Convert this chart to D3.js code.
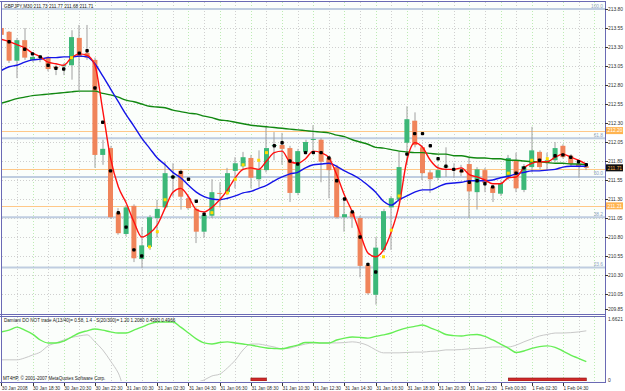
<!DOCTYPE html>
<html><head><meta charset="utf-8">
<script src="https://cdn.jsdelivr.net/npm/d3@7"></script>
<style>html,body{margin:0;padding:0;background:#fff;overflow:hidden}text{font-family:"Liberation Sans",Arial,sans-serif}</style>
</head><body><svg id="c" width="625" height="391"></svg>
<script>
// ---------- DATA ----------
const symbolTitle = "GBPJPY,M30  211.73 211.77 211.68 211.71";
const indTitle = "Damiani DO NOT trade A(13/40)= 0.58, 1.4 - S(20/300)= 1.20  1.2080 0.4580 0.4966";
const copyright = "MT4HP, \u00a9 2001-2007 MetaQuotes Software Corp.";
const timeLabels = ["30 Jan 2008","30 Jan 18:30","30 Jan 20:30","30 Jan 22:30","31 Jan 00:30","31 Jan 02:30","31 Jan 04:30","31 Jan 06:30","31 Jan 08:30","31 Jan 10:30","31 Jan 12:30","31 Jan 14:30","31 Jan 16:30","31 Jan 18:30","31 Jan 20:30","31 Jan 22:30","1 Feb 00:30","1 Feb 02:30","1 Feb 04:30"];
const timeLabelBars = [0,4,8,12,16,20,24,28,32,36,40,44,48,52,56,60,64,68,72];
const priceTicks = ["213.80","213.55","213.30","213.05","212.80","212.55","212.30","212.05","211.80","211.55","211.30","211.05","210.80","210.55","210.30","210.05","209.85"];
const indTicks = ["1.6621","0"];

const open = [213.55,213.50,213.12,213.39,213.13,213.17,213.17,213.04,213.05,213.06, 213.42,213.22,213.13,211.88,211.97,211.12,210.84,211.21,210.51,210.67, 211.05,211.19,211.58,211.67,211.31,211.17,210.87,211.08,211.38,211.39, 211.67,211.73,211.84,211.56,211.68,212.00,212.01,211.97,211.38,211.92, 212.08,212.08,211.84,211.72,211.06,211.13,211.05,210.43,210.04,210.63, 211.19,211.29,212.04,212.33,211.98,211.65,211.58,211.72,211.69,211.67, 211.76,211.39,211.68,211.46,211.37,211.58,211.81,211.42,211.72,211.92, 211.79,211.81,212.00,211.87,211.76,211.73];
const high = [213.58,213.51,213.42,213.55,213.19,213.19,213.18,213.06,213.09,213.52, 213.59,213.59,213.16,212.08,212.00,211.18,211.22,211.23,210.93,211.09, 211.29,211.79,211.77,211.69,211.34,211.19,211.12,211.56,211.52,211.71, 211.85,211.92,211.88,211.94,212.25,212.18,212.17,212.00,211.96,212.08, 212.27,212.10,211.87,211.75,211.29,211.16,211.08,210.46,210.80,211.17, 211.34,211.92,212.52,212.44,212.01,211.68,211.75,211.98,211.77,211.75, 211.84,211.72,211.71,211.48,211.54,211.88,211.91,211.76,212.25,211.94, 211.91,212.05,212.02,211.89,211.79,211.77];
const low = [213.43,213.09,212.89,213.13,213.10,213.10,212.98,212.93,212.93,212.87, 212.73,213.13,211.71,211.75,211.04,210.83,210.81,210.47,210.39,210.63, 210.79,211.18,211.33,211.16,211.16,210.72,210.79,211.05,211.19,211.35, 211.44,211.68,211.44,211.46,211.65,211.81,211.75,211.26,211.35,211.89, 211.94,211.52,211.31,211.04,210.87,210.92,210.27,210.04,209.91,210.60, 210.63,211.26,211.75,211.98,211.55,211.38,211.55,211.59,211.58,211.60, 211.05,211.16,211.39,211.26,211.34,211.55,211.39,211.39,211.65,211.69, 211.68,211.79,211.83,211.73,211.58,211.68];
const close = [213.46,213.12,213.39,213.16,213.17,213.16,213.01,213.02,213.06,213.43, 213.17,213.16,211.88,211.96,211.06,210.85,211.19,210.52,210.69,211.06, 211.17,211.64,211.60,211.33,211.18,210.87,211.09,211.39,211.37,211.64, 211.77,211.85,211.58,211.69,211.97,212.01,211.96,211.38,211.93,212.05, 212.09,211.79,211.68,211.06,211.10,211.06,210.42,210.06,210.66,211.14, 211.31,211.72,212.35,212.01,211.64,211.56,211.68,211.73,211.68,211.65, 211.40,211.69,211.51,211.38,211.51,211.84,211.44,211.73,211.94,211.72, 211.81,211.97,211.85,211.76,211.72,211.71];

const maFast = [213.40,213.37,213.33,213.29,213.22,213.17,213.10,213.08,213.06,213.16, 213.21,213.19,213.06,212.47,211.84,211.46,211.25,211.00,210.80,210.85, 210.96,211.18,211.39,211.44,211.33,211.16,211.13,211.19,211.29,211.42, 211.58,211.69,211.71,211.69,211.80,211.91,211.93,211.79,211.77,211.83, 211.93,211.91,211.84,211.62,211.35,211.13,210.85,210.59,210.54,210.63, 210.87,211.22,211.81,212.04,211.98,211.81,211.71,211.69,211.69,211.71, 211.62,211.59,211.55,211.50,211.50,211.58,211.59,211.71,211.77,211.79, 211.79,211.85,211.89,211.85,211.81,211.76];
const maMid = [212.99,213.04,213.06,213.10,213.13,213.14,213.16,213.16,213.17,213.17, 213.18,213.17,213.08,212.92,212.75,212.58,212.41,212.26,212.10,211.97, 211.84,211.75,211.65,211.58,211.48,211.39,211.33,211.30,211.29,211.31, 211.34,211.38,211.40,211.44,211.48,211.54,211.59,211.63,211.65,211.71, 211.75,211.76,211.77,211.73,211.67,211.62,211.56,211.48,211.39,211.27, 211.22,211.29,211.34,211.39,211.42,211.42,211.46,211.50,211.51,211.52, 211.54,211.54,211.54,211.55,211.58,211.60,211.63,211.65,211.67,211.67, 211.68,211.69,211.72,211.73,211.73,211.73];
const maSlow = [212.56,212.59,212.62,212.64,212.66,212.67,212.68,212.69,212.70,212.71, 212.72,212.72,212.72,212.69,212.67,212.64,212.60,212.58,212.55,212.52, 212.51,212.50,212.47,212.45,212.43,212.42,212.39,212.37,212.34,212.33, 212.31,212.29,212.27,212.26,212.25,212.24,212.23,212.22,212.21,212.20, 212.19,212.18,212.17,212.14,212.12,212.08,212.05,212.02,211.98,211.97, 211.95,211.93,211.92,211.91,211.91,211.90,211.89,211.89,211.87,211.87, 211.85,211.84,211.84,211.83,211.83,211.81,211.81,211.80,211.79,211.79, 211.78,211.77,211.77,211.76,211.76,211.75];

const blackDotBars = [1,3,4,5,6,7,8,10,11,12,13,14,15,16,17,18,22,23,24,25,26,35,36,37,38,39,40,41,42,43,44,45,46,47,48,52,53,54,55,56,57,58,59,60,61,62,63,66,67,69,71,72,73,74,75];
const blackDotPrices = [213.37,213.27,213.21,213.17,213.06,213.02,213.01,213.22,213.25,212.76,212.31,211.67,211.12,210.93,210.63,210.55,211.59,211.65,211.56,211.27,211.10,212.00,212.04,211.80,211.76,211.91,211.91,211.91,211.84,211.54,211.30,211.13,210.80,210.44,210.34,211.89,212.16,212.16,212.00,211.83,211.73,211.69,211.67,211.52,211.54,211.50,211.46,211.64,211.71,211.81,211.87,211.88,211.85,211.79,211.75];
const yellowDotBars = [9,19,20,21,27,29,30,31,33,34,49,50,51,65,68,70];
const yellowDotPrices = [213.16,210.67,210.87,211.29,211.12,211.38,211.56,211.75,211.81,211.91,210.54,210.89,211.34,211.64,211.81,211.83];

const fibLabels = ["100.0","61.8","50.0","38.2","23.6"];
const fibPrices = [213.80,212.10,211.59,211.06,210.40];
const pivotPrices = [212.20,211.70,211.21];
const pivotLabels = ["212.20","","211.21"];
const bidPrice = 211.71, bidLabel = "211.71";

const indGreen = [1.31,1.36,1.44,1.36,1.25,1.09,1.01,1.01,1.06,1.17, 1.28,1.34,1.39,1.36,1.31,1.28,1.28,1.36,1.44,1.53, 1.58,1.58,1.58,1.44,1.28,1.12,1.01,0.98,1.02,1.04, 1.01,0.98,0.95,0.91,0.87,0.86,0.85,0.90,0.95,1.02, 1.02,1.01,1.01,1.09,1.14,1.17,1.16,1.14,1.19,1.23, 1.28,1.36,1.42,1.46,1.50,1.42,1.34,1.24,1.21,1.20, 1.23,1.24,1.19,1.09,0.98,0.87,0.75,0.79,0.86,0.91, 0.93,0.89,0.79,0.68,0.59,0.50];
const indGray = [0.55,0.55,0.55,0.60,0.68,0.76,0.93,1.01,1.09,1.16, 1.20,1.23,1.04,0.82,0.52,0.19,-0.3,-0.3,-0.3,-0.3, -0.3,-0.3,-0.3,-0.3,-0.3,-0.08,0.00,0.11,0.16,0.33, 0.54,0.82,0.98,0.98,0.94,0.90,0.85,0.87,0.93,0.98, 1.01,1.01,1.01,1.01,1.02,1.04,1.01,0.94,0.82,0.74, 0.74,0.74,0.75,0.76,0.76,0.78,0.79,0.82,0.82,0.83, 0.85,0.86,0.87,0.90,0.90,0.90,0.95,1.04,1.12,1.20, 1.24,1.28,1.28,1.29,1.31,1.34];
const signalStart = [32,65];
const signalEnd = [34,75];

// ---------- LAYOUT ----------
const svg = d3.select("#c");
const L=2, R=605, T=2, MB=314, IT=317, IB=382;
const nBars = open.length;
const x = d3.scaleLinear().domain([0, nBars-1]).range([1.3, 586.3]);
const y = d3.scaleLinear().domain([213.80, 209.80]).range([9, 313]);
const yi = d3.scaleLinear().domain([0, 1.6621]).range([380, 319]);
const border = "#6a6ab4";
const px = v => Math.round(v)+0.5;

svg.append("rect").attr("width",625).attr("height",391).attr("fill","#ffffff");
svg.append("rect").attr("x",L).attr("y",T).attr("width",R-L).attr("height",MB-T).attr("fill","#fbfefb");
svg.append("rect").attr("x",L).attr("y",IT).attr("width",R-L).attr("height",IB-IT).attr("fill","#fbfefb");

const defs = svg.append("defs");
defs.append("clipPath").attr("id","cm").append("rect").attr("x",L).attr("y",T).attr("width",R-L).attr("height",MB-T);
defs.append("clipPath").attr("id","ci").append("rect").attr("x",L).attr("y",IT).attr("width",R-L).attr("height",IB-IT-1);

const gm = svg.append("g").attr("clip-path","url(#cm)");
const gi = svg.append("g").attr("clip-path","url(#ci)");

// grid
const gridBars = d3.range(0, 78, 2);
[[gm,T,MB],[gi,IT,IB]].forEach(([g,a,b])=>{
  g.selectAll(null).data(gridBars).join("line")
    .attr("x1",d=>px(x(d))).attr("x2",d=>px(x(d))).attr("y1",a).attr("y2",b)
    .attr("stroke",d=>d%4===0?"#bdebb4":"#d0d0d0").attr("stroke-width",1)
    .attr("stroke-dasharray","1,2");
});
const hTicks = priceTicks.map(Number).filter(v=>v>=210);
gm.selectAll(null).data(hTicks).join("line")
  .attr("x1",L).attr("x2",R).attr("y1",d=>px(y(d))).attr("y2",d=>px(y(d)))
  .attr("stroke","#cfcfcf").attr("stroke-dasharray","1,2");

// fib lines
gm.selectAll(null).data(fibPrices).join("line")
  .attr("x1",L).attr("x2",R).attr("y1",d=>y(d)).attr("y2",d=>y(d))
  .attr("stroke","#bfcde0").attr("stroke-width",2);
gm.selectAll(null).data(fibPrices).join("text")
  .attr("x",603).attr("y",d=>y(d)-1.5).attr("text-anchor","end")
  .attr("font-size",4.8).attr("fill","#8ea2bf").text((d,i)=>fibLabels[i]);
// pivot lines
gm.selectAll(null).data(pivotPrices).join("line")
  .attr("x1",L).attr("x2",R).attr("y1",d=>px(y(d))).attr("y2",d=>px(y(d)))
  .attr("stroke","#ffc888").attr("stroke-width",1);

// candles
const idx = d3.range(nBars);
gm.selectAll(null).data(idx).join("line")
  .attr("x1",i=>px(x(i))-0.5).attr("x2",i=>px(x(i))-0.5)
  .attr("y1",i=>y(high[i])).attr("y2",i=>y(low[i]))
  .attr("stroke","#a0a0a0").attr("stroke-width",1);
gm.selectAll(null).data(idx).join("rect")
  .attr("x",i=>x(i)-2.5).attr("width",5)
  .attr("y",i=>y(Math.max(open[i],close[i])))
  .attr("height",i=>Math.max(1,Math.abs(y(open[i])-y(close[i]))))
  .attr("fill",i=>close[i]>open[i]?"#3cb878":(close[i]<open[i]?"#f0845a":"#a0a0a0"));

// moving averages
const lineGen = arr => d3.line().x((d,i)=>x(i)).y(d=>y(d)).curve(d3.curveMonotoneX)(arr);
gm.append("path").attr("d",lineGen(maSlow)).attr("fill","none").attr("stroke","#118811").attr("stroke-width",1.4);
gm.append("path").attr("d",lineGen(maMid)).attr("fill","none").attr("stroke","#1414e8").attr("stroke-width",1.4);
gm.append("path").attr("d",lineGen(maFast)).attr("fill","none").attr("stroke","#ff1010").attr("stroke-width",1.4);

// dots
gm.selectAll(null).data(blackDotBars).join("rect")
  .attr("x",(d)=>x(d)-1.7).attr("y",(d,i)=>y(blackDotPrices[i])-1.7).attr("width",3.4).attr("height",3.4).attr("rx",1)
  .attr("fill","#000");
gm.selectAll(null).data(yellowDotBars).join("rect")
  .attr("x",(d)=>x(d)-1.5).attr("y",(d,i)=>y(yellowDotPrices[i])-1.5).attr("width",3).attr("height",3)
  .attr("fill","#ffdc00");

// header
svg.append("text").attr("x",4).attr("y",7.5).attr("font-size",4.7).attr("fill","#202020").text(symbolTitle);

// indicator lines
const lineI = arr => d3.line().x((d,i)=>x(i)).y(d=>yi(d)).curve(d3.curveMonotoneX)(arr);
gi.append("path").attr("d",lineI(indGray)).attr("fill","none").attr("stroke","#c8c8c8").attr("stroke-width",1);
gi.append("path").attr("d",lineI(indGreen)).attr("fill","none").attr("stroke","#66ee55").attr("stroke-width",1.4);
gi.selectAll(null).data(signalStart).join("rect")
  .attr("x",d=>x(d)).attr("width",(d,i)=>x(signalEnd[i])-x(d))
  .attr("y",yi(0)-2).attr("height",3).attr("fill","#d02a2a").attr("stroke","#8a1010").attr("stroke-width",0.6);
svg.append("text").attr("x",4).attr("y",322).attr("font-size",4.6).attr("fill","#202020").text(indTitle);
svg.append("text").attr("x",3).attr("y",380).attr("font-size",4.6).attr("fill","#202020").text(copyright);

// borders
const b = svg.append("g").attr("stroke",border).attr("fill","none").attr("stroke-width",1);
b.append("line").attr("x1",0).attr("x2",R+0.5).attr("y1",1.5).attr("y2",1.5);
b.append("line").attr("x1",1.5).attr("x2",1.5).attr("y1",1).attr("y2",IB);
b.append("line").attr("x1",R+0.5).attr("x2",R+0.5).attr("y1",1).attr("y2",IB+1);
b.append("line").attr("x1",0).attr("x2",R+0.5).attr("y1",MB+0.5).attr("y2",MB+0.5);
b.append("line").attr("x1",0).attr("x2",R+0.5).attr("y1",MB+2.5).attr("y2",MB+2.5);
b.append("line").attr("x1",0).attr("x2",R+0.5).attr("y1",IB+0.5).attr("y2",IB+0.5);

// right axis
const axR = svg.append("g");
axR.selectAll(null).data(priceTicks).join("line")
  .attr("x1",R).attr("x2",R+3).attr("y1",d=>px(y(+d))).attr("y2",d=>px(y(+d))).attr("stroke","#333");
axR.selectAll(null).data(priceTicks).join("text")
  .attr("x",608).attr("y",d=>y(+d)+1.8).attr("font-size",4.9).attr("fill","#303030").text(d=>d);
// pivot labels
pivotPrices.forEach((p,i)=>{
  if(!pivotLabels[i]) return;
  axR.append("rect").attr("x",606).attr("y",y(p)-3.5).attr("width",17).attr("height",7).attr("fill","#ffb450");
  axR.append("text").attr("x",607.5).attr("y",y(p)+1.8).attr("font-size",4.9).attr("fill","#ffffff").text(pivotLabels[i]);
});
axR.append("rect").attr("x",606).attr("y",y(bidPrice)-3.5).attr("width",17).attr("height",7).attr("fill","#101010");
axR.append("text").attr("x",607.5).attr("y",y(bidPrice)+1.8).attr("font-size",4.9).attr("fill","#ffb450").text(bidLabel);
// indicator axis
axR.selectAll(null).data(indTicks).join("text")
  .attr("x",608).attr("y",d=>yi(+d)+1.8).attr("font-size",4.9).attr("fill","#303030").text(d=>d);

// bottom time axis
const axB = svg.append("g");
axB.selectAll(null).data(timeLabelBars).join("line")
  .attr("x1",d=>px(x(d))).attr("x2",d=>px(x(d))).attr("y1",IB+1).attr("y2",IB+4).attr("stroke","#333");
axB.selectAll(null).data(timeLabelBars).join("text")
  .attr("x",d=>x(d)+0.5).attr("y",389.5).attr("font-size",4.7).attr("fill","#303030").text((d,i)=>timeLabels[i]);
</script></body></html>
